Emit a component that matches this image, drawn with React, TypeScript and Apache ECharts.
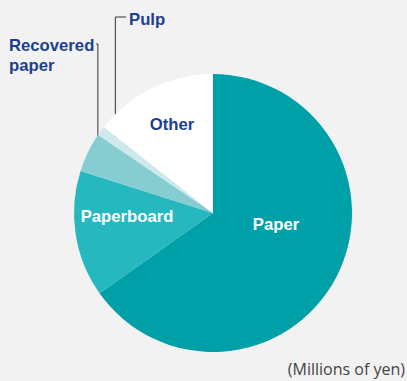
import React, { useEffect, useRef } from "react";
import * as echarts from "echarts";

const categories = ["Paper", "Paperboard", "Recovered paper", "Pulp", "Other"];
const values = [652, 147, 46, 11, 144];
const colors = ["#00a0a8", "#26b8bf", "#86cdd2", "#cde9ec", "#ffffff"];
const labelTexts = ["Paper", "Paperboard", "Recovered\npaper", "Pulp", "Other"];
const unitLabel = "(Millions of yen)";

const CX = 213;
const CY = 213;
const R = 139;

// angle (clockwise from 12 o'clock, degrees) at the middle of slice i
function midAngle(i: number) {
  const total = values.reduce((a, b) => a + b, 0);
  let start = 0;
  for (let k = 0; k < i; k++) start += values[k];
  return ((start + values[i] / 2) / total) * 360;
}
function pointAt(i: number, r: number): [number, number] {
  const a = (midAngle(i) * Math.PI) / 180;
  return [CX + r * Math.sin(a), CY - r * Math.cos(a)];
}

const labelPos: Record<number, any> = {
  0: { x: 276, y: 224, align: "center", verticalAlign: "middle" },
  1: { x: 127, y: 216, align: "center", verticalAlign: "middle" },
  2: { x: 9, y: 35, align: "left", verticalAlign: "top" },
  3: { x: 129, y: 9, align: "left", verticalAlign: "top" },
  4: { x: 172, y: 124, align: "center", verticalAlign: "middle" },
};

export default function App() {
  const ref = useRef<HTMLDivElement>(null);
  useEffect(() => {
    document.body.style.margin = "0";
    const chart = echarts.init(ref.current!, null, { renderer: "svg" });
    const recDot = pointAt(2, 128);
    const pulpDot = pointAt(3, 121);
    const data = categories.map((name, i) => {
      const outside = i === 2 || i === 3;
      return {
        name,
        value: values[i],
        itemStyle: { color: colors[i] },
        label: {
          show: true,
          formatter: labelTexts[i],
          position: outside ? "outside" : "inside",
          color: i === 0 || i === 1 ? "#ffffff" : "#1d3f8f",
          fontSize: 16.7,
          fontWeight: "bold",
          fontFamily: "Liberation Sans, Arial, sans-serif",
          lineHeight: 20,
        },
        labelLine: outside
          ? { show: true, lineStyle: { color: "#333333", width: 1 } }
          : { show: false },
      };
    });
    chart.setOption({
      animation: false,
      backgroundColor: "#f2f2f2",
      series: [
        {
          type: "pie",
          center: [CX, CY],
          radius: [0, R],
          startAngle: 90,
          clockwise: true,
          avoidLabelOverlap: false,
          silent: true,
          itemStyle: { borderWidth: 0 },
          data,
          labelLayout: (params: any) => {
            const i = params.dataIndex;
            const p = labelPos[i];
            const out: any = { ...p };
            if (i === 2) {
              out.labelLinePoints = [
                [recDot[0], recDot[1]],
                [recDot[0], 44],
                [96, 44],
              ];
            } else if (i === 3) {
              out.labelLinePoints = [
                [pulpDot[0], pulpDot[1]],
                [pulpDot[0], 17],
                [126, 17],
              ];
            }
            return out;
          },
        },
      ],
      graphic: [
        {
          type: "circle",
          shape: { cx: recDot[0], cy: recDot[1], r: 1.8 },
          style: { fill: "#222222" },
        },
        {
          type: "circle",
          shape: { cx: pulpDot[0], cy: pulpDot[1], r: 1.8 },
          style: { fill: "#222222" },
        },
        {
          type: "text",
          right: 2,
          top: 361,
          style: {
            text: unitLabel,
            fill: "#444444",
            fontSize: 16,
            fontFamily: "Open Sans, Noto Sans, sans-serif",
          },
        },
      ],
    });
    return () => chart.dispose();
  }, []);
  return <div ref={ref} style={{ width: 407, height: 381 }} />;
}
